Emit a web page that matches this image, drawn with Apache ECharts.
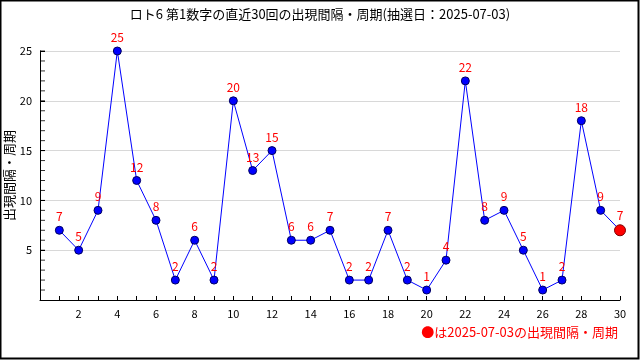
<!DOCTYPE html>
<html><head><meta charset="utf-8">
<script src="https://cdn.jsdelivr.net/npm/echarts@6/dist/echarts.min.js"></script>
<style>html,body{margin:0;padding:0;background:#fff}#c{width:640px;height:360px}</style>
</head><body><div id="c"></div>
<script>
const draws = [1,2,3,4,5,6,7,8,9,10,11,12,13,14,15,16,17,18,19,20,21,22,23,24,25,26,27,28,29,30];
const intervals = [7,5,9,25,12,8,2,6,2,20,13,15,6,6,7,2,2,7,2,1,4,22,8,9,5,1,2,18,9,7];
const yTickValues = [1,2,3,4,5,6,7,8,9,10,11,12,13,14,15,16,17,18,19,20,21,22,23,24,25];
const titleText = 'ロト6 第1数字の直近30回の出現間隔・周期(抽選日：2025-07-03)';
const yName = '出現間隔・周期';
const noteText = '●は2025-07-03の出現間隔・周期';
const font = '"Noto Sans CJK JP", "DejaVu Sans", sans-serif';

const data = draws.map((d, i) => {
  const last = i === draws.length - 1;
  return {
    value: [d, intervals[i]],
    symbolSize: last ? 11 : 8,
    itemStyle: last ? {color: '#ff0000', borderColor: '#800000', borderWidth: 1} : {color: '#0000ff', borderColor: '#000060', borderWidth: 1}
  };
});

const chart = echarts.init(document.getElementById('c'), null, {renderer: 'canvas'});
chart.setOption({
  animation: false,
  backgroundColor: '#fff',
  title: {text: titleText, left: 'center', top: 3, textStyle: {fontFamily: font, fontSize: 13, fontWeight: 'normal', color: '#000'}},
  grid: {left: 40, right: 20, top: 51, bottom: 60, containLabel: false, outerBoundsMode: 'none'},
  xAxis: {
    type: 'value', min: 0, max: 30, interval: 1,
    axisLine: {lineStyle: {color: '#000', width: 1}},
    axisTick: {inside: true, length: 4, lineStyle: {color: '#000'}},
    axisLabel: {color: '#000', fontFamily: font, fontSize: 11, margin: 8,
      formatter: v => (v > 0 && v % 2 === 0) ? String(v) : ''},
    splitLine: {show: false}
  },
  yAxis: {
    type: 'value', min: 0, max: 25, interval: 5, position: 'left',
    name: yName, nameLocation: 'middle', nameGap: 24, nameRotate: 90, nameMoveOverlap: false,
    nameTextStyle: {color: '#000', fontFamily: font, fontSize: 13},
    axisLine: {show: true, onZero: false, lineStyle: {color: '#000', width: 1}},
    axisTick: {show: true, inside: true, length: 5, lineStyle: {color: '#000', width: 1}},
    axisLabel: {color: '#000', fontFamily: font, fontSize: 11, margin: 8,
      formatter: v => v > 0 ? String(v) : ''},
    splitLine: {show: true, lineStyle: {color: '#d8d8d8', width: 1}}
  },
  series: [{
    type: 'scatter', silent: true, z: 1,
    data: yTickValues.map(v => [0, v]),
    symbol: 'rect', symbolSize: [5, 1], symbolOffset: [2.5, 0],
    itemStyle: {color: '#000'}
  }, {
    type: 'line', data: data, symbol: 'circle', z: 3,
    lineStyle: {color: '#0000ff', width: 1},
    label: {show: true, position: 'top', distance: 3, color: '#ff0000', fontFamily: font, fontSize: 12,
      formatter: p => String(p.value[1])}
  }],
  graphic: [
    {type: 'rect', shape: {x: 0.5, y: 0.5, width: 638, height: 358}, style: {fill: 'none', stroke: '#000', lineWidth: 2}, silent: true},
    {type: 'text', right: 22, top: 326, style: {text: noteText, fill: '#ff0000', font: '13px ' + font}}
  ]
});
</script></body></html>
